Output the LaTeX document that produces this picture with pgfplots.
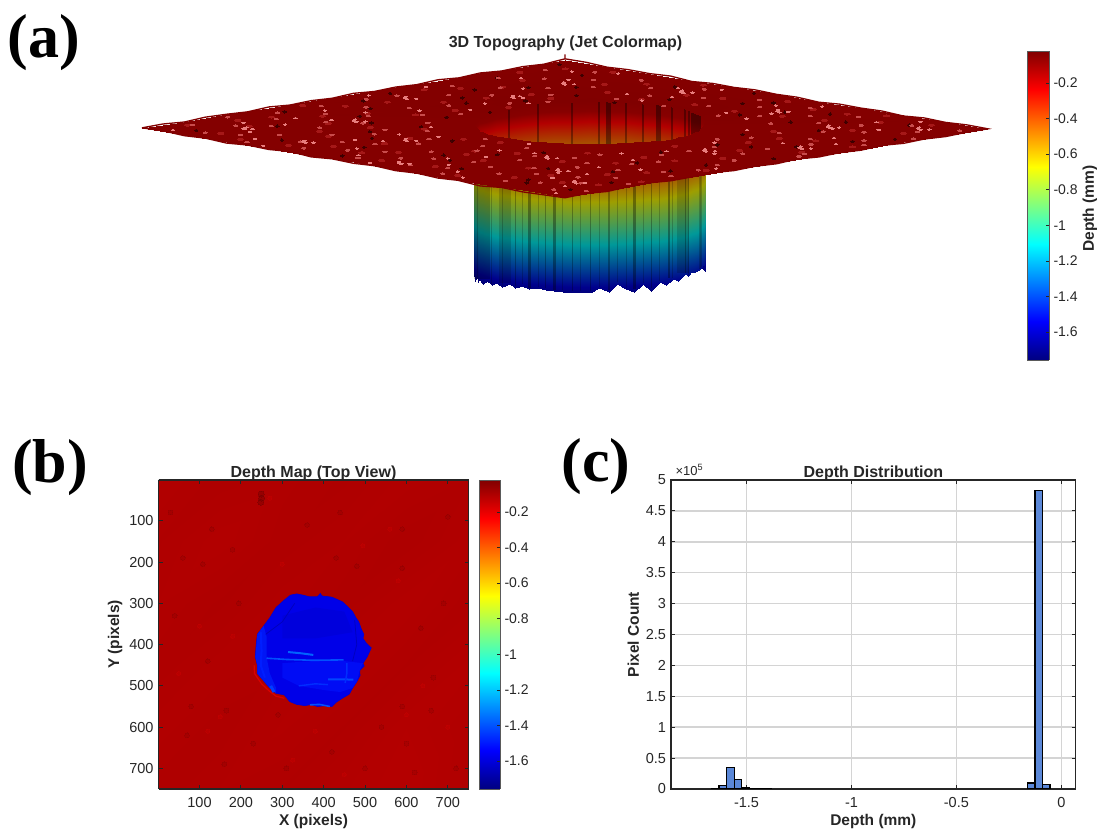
\documentclass[border=0pt]{standalone}
\usepackage{pgfplots}
\pgfplotsset{compat=1.18}
\usepackage{fontspec}
\setmainfont{Liberation Sans}
\newfontfamily\panelfont{Liberation Serif}
\definecolor{axc}{RGB}{38,38,38}
\definecolor{gridc}{RGB}{212,212,212}
\definecolor{barc}{RGB}{91,136,216}
\definecolor{cbedge}{RGB}{90,90,90}
\definecolor{hb}{RGB}{0,0,232}
\definecolor{hbe}{RGB}{0,0,215}
\definecolor{hbd}{RGB}{0,0,220}
\definecolor{hbdd}{RGB}{0,0,190}
\definecolor{hl}{RGB}{0,22,245}
\definecolor{hm}{RGB}{0,12,245}
\definecolor{sa}{RGB}{0,30,255}
\definecolor{sb}{RGB}{0,100,255}
\definecolor{sc}{RGB}{0,80,255}
\definecolor{sd}{RGB}{0,70,255}
\definecolor{se}{RGB}{0,45,255}
\definecolor{sf}{RGB}{0,80,255}
\definecolor{sg}{RGB}{0,60,255}
\definecolor{pitc}{RGB}{62,0,0}
\definecolor{midc}{RGB}{165,24,24}
\definecolor{hic}{RGB}{232,125,125}
\definecolor{hid}{RGB}{200,75,75}
\definecolor{rimc}{RGB}{128,0,0}
\definecolor{spotd}{RGB}{120,0,0}
\definecolor{spotl}{RGB}{205,0,0}
\newcommand\tl{\fontsize{14.5}{16}\selectfont}
\newcommand\bl{\fontsize{15.5}{17}\selectfont\bfseries}
\newcommand\ttl{\fontsize{16}{18}\selectfont\bfseries}
\pgfplotsset{
  mat/.style={scale only axis, clip=true,
    axis line style={draw=axc,line width=1.3pt},
    tick style={draw=axc,line width=1pt},
    tick align=inside, major tick length=4pt,
    tick label style={font=\tl,text=axc},
    xticklabel style={yshift=-5pt}, yticklabel style={xshift=-1.5pt},
    /pgf/number format/assume math mode=true,
    label style={font=\bl,text=axc},
    title style={font=\ttl,text=axc,yshift=-10pt}},
  cbar/.style={scale only axis, view={0}{90}, xmin=0,xmax=1,ymin=-1.757,ymax=-0.02,
    xtick=\empty, ytick={-1.6,-1.4,-1.2,-1,-0.8,-0.6,-0.4,-0.2},
    ytick pos=right, yticklabel pos=right, tick align=inside, major tick length=3pt,
    axis line style={draw=cbedge,line width=0.8pt}, tick style={draw=axc,line width=0.8pt},
    tick label style={font=\fontsize{14}{16}\selectfont,text=axc}, yticklabel style={xshift=1pt},
    /pgf/number format/assume math mode=true,
    point meta min=-1.757, point meta max=-0.02, colormap/jet},
  colormap={dimjet}{rgb(0cm)=(0,0,.3); rgb(1cm)=(0,0,.55); rgb(3cm)=(0,.6,.6); rgb(5cm)=(.62,.62,0); rgb(7cm)=(.7,0,0); rgb(7.5cm)=(.53,0,0); rgb(8cm)=(.5,0,0)},
}
\begin{document}
\begin{tikzpicture}[x=1pt,y=1pt]
\path[use as bounding box] (0,0) rectangle (1100,835);

\node[font=\panelfont\fontsize{62}{62}\selectfont\bfseries] at (44,792) {(a)};
\node[font=\panelfont\fontsize{62}{62}\selectfont\bfseries] at (50,367) {(b)};
\node[font=\panelfont\fontsize{62}{62}\selectfont\bfseries] at (596,368) {(c)};
\node[font=\ttl,text=axc] at (565.5,792) {3D Topography (Jet Colormap)};

% ---------- (a) 3D surface
\begin{axis}[anchor=origin, at={(142pt,715pt)},
  x={(0.564pt,-0.092pt)}, y={(0.564pt,0.0907pt)}, z={(0pt,98pt)},
  xmin=0,xmax=750,ymin=0,ymax=750,zmin=-1.8,zmax=0,
  hide axis, clip=false, z buffer=none, colormap name=dimjet,
  point meta min=-1.757, point meta max=-0.02]
% back half of the wall
\addplot3[surf,shader=interp,mesh/rows=21] table {
482 515 -0.08
482 515 -1.5

466 533 -0.06
466 533 -1.6

447 546 -0.05
447 546 -1.6

425 553 -0.04
425 553 -1.6

403 559 -0.03
403 559 -1.6

380 559 -0.03
380 559 -1.6

357 559 -0.03
357 559 -1.6

335 553 -0.03
335 553 -1.6

313 546 -0.03
313 546 -1.6

295 532 -0.03
295 532 -1.6

277 518 -0.03
277 518 -1.6

263 500 -0.03
263 500 -1.6

249 482 -0.03
249 482 -1.6

242 460 -0.03
242 460 -1.6

236 438 -0.04
236 438 -1.6

236 415 -0.05
236 415 -1.6

236 392 -0.06
236 392 -1.6

242 370 -0.07
242 370 -1.6

249 348 -0.08
249 348 -1.6

263 330 -0.08
263 330 -1.6

277 312 -0.08
277 312 -1.59
};
% dark stripes on the back of the wall
\addplot3[black,opacity=.4,line width=5pt,unbounded coords=jump] coordinates {
(437,549,-.05)(437,549,-.9)(nan,nan,nan)(425,553,-.04)(425,553,-.9)(nan,nan,nan)(295,532,-.03)(295,532,-.9)(nan,nan,nan)(357,559,-.03)(357,559,-.9)};
\addplot3[black,opacity=.35,line width=2pt,unbounded coords=jump] coordinates {
(403,559,-.03)(403,559,-.9)(nan,nan,nan)(380,559,-.03)(380,559,-.9)(nan,nan,nan)(335,553,-.03)(335,553,-.9)(nan,nan,nan)(313,546,-.03)(313,546,-.9)(nan,nan,nan)(263,500,-.03)(263,500,-.9)(nan,nan,nan)(242,460,-.03)(242,460,-.9)(nan,nan,nan)(236,415,-.05)(236,415,-.9)(nan,nan,nan)(414,556,-.03)(414,556,-.9)(nan,nan,nan)(285,525,-.03)(285,525,-.9)};
% front half of the wall
\addplot3[surf,shader=interp,mesh/rows=41] table {
277 312 -0.08
277 312 -1.59

286 305 -0.08
286 305 -1.657

295 299 -0.08
295 299 -1.59

304 291 -0.08
304 291 -1.637

313 284 -0.08
313 284 -1.59

324 280 -0.08
324 280 -1.63

335 277 -0.08
335 277 -1.585

346 274 -0.08
346 274 -1.613

357 271 -0.08
357 271 -1.58

368 271 -0.08
368 271 -1.61

380 272 -0.08
380 272 -1.57

391 271 -0.08
391 271 -1.6

403 271 -0.08
403 271 -1.566

413 274 -0.08
413 274 -1.59

424 278 -0.08
424 278 -1.574

435 281 -0.08
435 281 -1.587

447 284 -0.08
447 284 -1.589

456 290 -0.08
456 290 -1.595

466 297 -0.08
466 297 -1.6

474 304 -0.08
474 304 -1.59

483 312 -0.08
483 312 -1.6

491 320 -0.08
491 320 -1.55

499 329 -0.08
499 329 -1.59

503 340 -0.08
503 340 -1.515

508 350 -0.08
508 350 -1.57

513 360 -0.08
513 360 -1.607

519 370 -0.08
519 370 -1.53

522 381 -0.08
522 381 -1.61

526 392 -0.08
526 392 -1.52

526 403 -0.08
526 403 -1.56

526 415 -0.08
526 415 -1.51

525 426 -0.08
525 426 -1.54

525 438 -0.08
525 438 -1.48

520 448 -0.08
520 448 -1.52

516 458 -0.08
516 458 -1.49

512 469 -0.08
512 469 -1.5

508 480 -0.08
508 480 -1.5

501 489 -0.08
501 489 -1.5

494 498 -0.08
494 498 -1.51

488 507 -0.08
488 507 -1.48

482 515 -0.08
482 515 -1.5
};
% darker stripes on the front of the wall
\addplot3[black,opacity=.22,line width=16pt,unbounded coords=jump,line cap=butt] coordinates {
(322,281,-.5)(322,281,-1.58)(nan,nan,nan)};
\addplot3[black,opacity=.16,line width=12pt,unbounded coords=jump,line cap=butt] coordinates {
(372,271,-.5)(372,271,-1.56)(nan,nan,nan)(524,435,-.5)(524,435,-1.47)};
\addplot3[black,opacity=.33,line width=2.5pt,unbounded coords=jump] coordinates {
(413,274,-.5)(413,274,-1.58)(nan,nan,nan)(447,284,-.5)(447,284,-1.58)(nan,nan,nan)(513,360,-.5)(513,360,-1.58)(nan,nan,nan)(526,408,-.5)(526,408,-1.5)};
\addplot3[black,opacity=.28,line width=1.1pt,unbounded coords=jump] coordinates {
(391,271,-.5)(391,271,-1.58)(nan,nan,nan)(435,281,-.5)(435,281,-1.57)(nan,nan,nan)(466,297,-.5)(466,297,-1.58)(nan,nan,nan)(483,312,-.5)(483,312,-1.58)(nan,nan,nan)(499,329,-.5)(499,329,-1.57)(nan,nan,nan)(522,381,-.5)(522,381,-1.58)(nan,nan,nan)(525,438,-.5)(525,438,-1.47)(nan,nan,nan)(501,489,-.5)(501,489,-1.49)};
\addplot3[black,opacity=.2,line width=.8pt,unbounded coords=jump] coordinates {
(304,291,-.5)(304,291,-1.6)(nan,nan,nan)(346,274,-.5)(346,274,-1.6)(nan,nan,nan)(368,271,-.5)(368,271,-1.6)(nan,nan,nan)(403,271,-.5)(403,271,-1.55)(nan,nan,nan)(424,278,-.5)(424,278,-1.56)(nan,nan,nan)(456,290,-.5)(456,290,-1.58)(nan,nan,nan)(474,304,-.5)(474,304,-1.58)(nan,nan,nan)(491,320,-.5)(491,320,-1.54)(nan,nan,nan)(503,340,-.5)(503,340,-1.5)(nan,nan,nan)(508,350,-.5)(508,350,-1.56)(nan,nan,nan)(519,370,-.5)(519,370,-1.52)(nan,nan,nan)(526,392,-.5)(526,392,-1.51)(nan,nan,nan)(526,415,-.5)(526,415,-1.5)(nan,nan,nan)(520,448,-.5)(520,448,-1.51)(nan,nan,nan)(508,480,-.5)(508,480,-1.49)(nan,nan,nan)(494,498,-.5)(494,498,-1.5)};
% plate with the hole
\addplot3[surf,shader=interp,mesh/rows=41] table {
0 0 -0.08
277 312 -0.08

75 0 -0.08
295 299 -0.08

150 0 -0.085
313 284 -0.08

225 0 -0.08
335 277 -0.08

300 0 -0.085
357 271 -0.08

375 0 -0.08
380 272 -0.08

450 0 -0.085
403 271 -0.08

525 0 -0.085
424 278 -0.08

600 0 -0.085
447 284 -0.08

675 0 -0.085
466 297 -0.08

750 0 -0.085
483 312 -0.08

750 75 -0.085
499 329 -0.08

750 150 -0.08
508 350 -0.08

750 225 -0.085
519 370 -0.08

750 300 -0.08
526 392 -0.08

750 375 -0.085
526 415 -0.08

750 450 -0.08
525 438 -0.08

750 525 -0.085
516 458 -0.08

750 600 -0.08
508 480 -0.08

750 675 -0.085
494 498 -0.08

750 750 -0.08
482 515 -0.08

675 750 -0.08
466 533 -0.06

600 750 -0.085
447 546 -0.05

525 750 -0.08
425 553 -0.04

450 750 -0.085
403 559 -0.03

375 750 -0.08
380 559 -0.03

300 750 -0.08
357 559 -0.03

225 750 -0.085
335 553 -0.03

150 750 -0.08
313 546 -0.03

75 750 -0.085
295 532 -0.03

0 750 -0.08
277 518 -0.03

0 675 -0.085
263 500 -0.03

0 600 -0.08
249 482 -0.03

0 525 -0.085
242 460 -0.03

0 450 -0.08
236 438 -0.04

0 375 -0.085
236 415 -0.05

0 300 -0.08
236 392 -0.06

0 225 -0.085
242 370 -0.07

0 150 -0.08
249 348 -0.08

0 75 -0.085
263 330 -0.08

0 0 -0.08
277 312 -0.08
};
% rough rim of the plate
\addplot3[color=rimc,line width=1.3pt] coordinates {
(0,0,-.08)(37,0,-.075)(75,0,-.09)(112,0,-.08)(150,0,-.095)(187,0,-.08)(225,0,-.09)(262,0,-.075)(300,0,-.095)(337,0,-.08)(375,0,-.09)(412,0,-.08)(450,0,-.095)(487,0,-.085)(525,0,-.1)(560,0,-.09)(600,0,-.11)(637,0,-.09)(675,0,-.1)(712,0,-.095)(750,0,-.09)
(750,37,-.08)(750,75,-.095)(750,112,-.08)(750,150,-.075)(750,187,-.09)(750,225,-.085)(750,262,-.075)(750,300,-.09)(750,337,-.08)(750,375,-.09)(750,412,-.075)(750,450,-.09)(750,487,-.08)(750,525,-.09)(750,562,-.075)(750,600,-.09)(750,637,-.08)(750,675,-.09)(750,712,-.08)(750,750,-.08)
(712,750,-.075)(675,750,-.085)(637,750,-.075)(600,750,-.09)(562,750,-.075)(525,750,-.08)(487,750,-.075)(450,750,-.09)(412,750,-.075)(375,750,-.08)(337,750,-.07)(300,750,-.08)(262,750,-.075)(225,750,-.09)(187,750,-.07)(150,750,-.08)(112,750,-.075)(75,750,-.085)(37,750,-.07)(0,750,-.07)(0,750,-.025)(0,750,-.07)
(0,712,-.09)(0,675,-.08)(0,637,-.09)(0,600,-.075)(0,562,-.09)(0,525,-.075)(0,487,-.09)(0,450,-.08)(0,412,-.09)(0,375,-.075)(0,337,-.09)(0,300,-.08)(0,262,-.09)(0,225,-.075)(0,187,-.09)(0,150,-.08)(0,112,-.075)(0,75,-.09)(0,37,-.075)(0,0,-.08)};
% surface texture: mid-tone ripples
\addplot3[only marks,mark=*,mark size=1pt,mark options={fill=midc,draw=midc,line width=0pt,xscale=3}] coordinates {
(25,55,-.08)(150,25,-.08)(270,70,-.08)(390,35,-.08)(540,20,-.08)(670,75,-.08)(85,105,-.08)(210,120,-.08)(360,95,-.08)(480,125,-.08)(620,105,-.08)(735,150,-.08)(55,175,-.08)(140,190,-.08)(295,180,-.08)(420,170,-.08)(555,190,-.08)(690,205,-.08)(20,265,-.08)(120,280,-.08)(255,245,-.08)(395,240,-.08)(530,260,-.08)(650,295,-.08)(730,270,-.08)(75,360,-.08)(180,375,-.08)(570,375,-.08)(680,350,-.08)(40,460,-.08)(140,470,-.08)(615,460,-.08)(715,455,-.08)(95,545,-.08)(200,525,-.08)(575,545,-.08)(665,530,-.08)(30,640,-.08)(170,650,-.08)(285,600,-.08)(430,620,-.08)(560,650,-.08)(700,650,-.08)(110,725,-.08)(260,735,-.08)(425,720,-.08)(590,730,-.08)(50,700,-.08)(350,680,-.08)(490,700,-.08)(620,690,-.08)
(100,40,-.08)(225,35,-.08)(330,60,-.08)(470,50,-.08)(600,60,-.08)(715,95,-.08)(45,125,-.08)(175,140,-.08)(300,130,-.08)(430,145,-.08)(560,125,-.08)(665,160,-.08)(95,225,-.08)(200,205,-.08)(345,225,-.08)(470,195,-.08)(610,230,-.08)(60,300,-.08)(170,315,-.08)(605,285,-.08)(125,410,-.08)(210,440,-.08)(650,410,-.08)(65,500,-.08)(160,530,-.08)(620,510,-.08)(730,530,-.08)(75,600,-.08)(215,610,-.08)(360,620,-.08)(500,635,-.08)(640,620,-.08)(205,690,-.08)(300,665,-.08)(545,705,-.08)(680,720,-.08)};
% surface texture: dark pits
\addplot3[only marks,mark=*,mark size=1.2pt,mark options={fill=pitc,draw=pitc,line width=0pt,xscale=1.5}] coordinates {
(62,34,-.08)(190,58,-.08)(330,25,-.08)(505,62,-.08)(640,42,-.08)(110,130,-.08)(260,148,-.08)(415,120,-.08)(580,140,-.08)(712,120,-.08)(38,215,-.08)(175,232,-.08)(345,205,-.08)(490,222,-.08)(628,250,-.08)(95,310,-.08)(210,330,-.08)(590,330,-.08)(700,300,-.08)(30,410,-.08)(150,425,-.08)(600,420,-.08)(725,395,-.08)(85,505,-.08)(190,490,-.08)(565,500,-.08)(680,480,-.08)(40,590,-.08)(160,610,-.08)(310,625,-.08)(455,605,-.08)(610,590,-.08)(725,610,-.08)(100,680,-.08)(245,700,-.08)(395,670,-.08)(530,690,-.08)(660,700,-.08)(20,720,-.08)(350,735,-.08)(715,45,-.08)(460,170,-.08)(240,255,-.08)(655,180,-.08)(120,565,-.08)(205,565,-.08)(540,610,-.08)(480,660,-.08)(625,60,-.08)(702,235,-.08)(448,98,-.08)(302,92,-.08)(222,182,-.08)(128,258,-.08)(48,345,-.08)(222,395,-.08)(118,450,-.08)(640,440,-.08)(700,560,-.08)(588,660,-.08)(278,560,-.08)(420,700,-.08)};
% surface texture: softer highlights
\addplot3[only marks,mark=*,mark size=.7pt,mark options={fill=hid,draw=hid,line width=0pt,xscale=3}] coordinates {
(82,30,-.08)(170,16,-.08)(255,32,-.08)(355,28,-.08)(440,36,-.08)(515,18,-.08)(610,34,-.08)(700,30,-.08)
(28,62,-.08)(125,50,-.08)(215,66,-.08)(305,60,-.08)(395,64,-.08)(490,52,-.08)(565,68,-.08)(650,56,-.08)(738,50,-.08)
(70,96,-.08)(160,84,-.08)(255,100,-.08)(345,86,-.08)(425,92,-.08)(520,98,-.08)(600,100,-.08)(690,88,-.08)
(18,134,-.08)(105,124,-.08)(205,132,-.08)(295,118,-.08)(385,128,-.08)(480,108,-.08)(565,130,-.08)(655,118,-.08)(735,128,-.08)
(70,168,-.08)(155,160,-.08)(240,172,-.08)(330,160,-.08)(420,174,-.08)(510,160,-.08)(600,172,-.08)(690,150,-.08)
(36,204,-.08)(130,196,-.08)(225,206,-.08)(315,194,-.08)(400,204,-.08)(500,196,-.08)(585,204,-.08)(650,194,-.08)(730,208,-.08)
(85,240,-.08)(170,222,-.08)(270,236,-.08)(365,244,-.08)(450,232,-.08)(545,222,-.08)(630,238,-.08)(700,224,-.08)
(40,278,-.08)(135,266,-.08)(225,282,-.08)(550,262,-.08)(640,276,-.08)(722,264,-.08)
(85,312,-.08)(175,322,-.08)(605,316,-.08)(710,310,-.08)
(42,356,-.08)(128,346,-.08)(205,360,-.08)(610,360,-.08)(700,350,-.08)
(48,404,-.08)(148,396,-.08)(610,405,-.08)(670,395,-.08)(735,430,-.08)
(92,452,-.08)(190,462,-.08)(570,450,-.08)(665,444,-.08)(725,450,-.08)
(45,505,-.08)(130,490,-.08)(215,505,-.08)(590,490,-.08)(680,506,-.08)
(95,540,-.08)(180,545,-.08)(590,540,-.08)(650,535,-.08)(730,550,-.08)
(42,590,-.08)(140,580,-.08)(260,582,-.08)(340,585,-.08)(440,582,-.08)(530,585,-.08)(620,588,-.08)(705,575,-.08)
(85,628,-.08)(175,625,-.08)(270,630,-.08)(380,625,-.08)(480,615,-.08)(570,630,-.08)(660,620,-.08)(738,630,-.08)
(40,675,-.08)(135,665,-.08)(230,672,-.08)(330,665,-.08)(430,665,-.08)(525,660,-.08)(620,655,-.08)(705,670,-.08)
(95,708,-.08)(180,705,-.08)(285,712,-.08)(390,705,-.08)(480,705,-.08)(570,700,-.08)(665,700,-.08)(735,715,-.08)};
% surface texture: bright highlights
\addplot3[only marks,mark=*,mark size=.7pt,mark options={fill=hic,draw=hic,line width=0pt,xscale=2.4}] coordinates {
(40,15,-.08)(205,10,-.08)(392,12,-.08)(555,14,-.08)(722,12,-.08)
(160,40,-.08)(340,44,-.08)(518,42,-.08)(692,58,-.08)
(118,74,-.08)(303,78,-.08)(472,72,-.08)(636,92,-.08)
(62,118,-.08)(254,124,-.08)(436,106,-.08)(612,126,-.08)
(108,146,-.08)(285,142,-.08)(462,148,-.08)(645,144,-.08)
(82,190,-.08)(262,194,-.08)(438,196,-.08)(618,192,-.08)
(124,212,-.08)(310,216,-.08)(484,212,-.08)(668,216,-.08)
(66,258,-.08)(250,262,-.08)(428,258,-.08)(608,262,-.08)
(112,284,-.08)(562,288,-.08)(728,290,-.08)
(150,342,-.08)(590,340,-.08)
(22,380,-.08)(190,392,-.08)(645,370,-.08)
(168,440,-.08)(585,430,-.08)
(26,478,-.08)(205,480,-.08)(648,488,-.08)
(160,510,-.08)(545,528,-.08)(700,530,-.08)
(120,556,-.08)(290,596,-.08)(482,590,-.08)(665,562,-.08)
(62,610,-.08)(242,618,-.08)(432,604,-.08)(612,612,-.08)
(112,644,-.08)(298,642,-.08)(476,640,-.08)(660,646,-.08)
(70,692,-.08)(254,696,-.08)(436,688,-.08)(616,686,-.08)
(122,722,-.08)(302,726,-.08)(482,724,-.08)(652,728,-.08)
(92,88,-.08)(98,84,-.08)(104,92,-.08)(90,95,-.08)(218,68,-.08)(226,64,-.08)(232,72,-.08)(214,74,-.08)(418,38,-.08)(426,34,-.08)(432,42,-.08)(412,44,-.08)
(598,138,-.08)(606,134,-.08)(612,144,-.08)(592,146,-.08)(678,88,-.08)(686,84,-.08)(692,94,-.08)(672,95,-.08)(148,228,-.08)(156,224,-.08)(162,234,-.08)(142,236,-.08)
(298,168,-.08)(306,164,-.08)(312,174,-.08)(292,176,-.08)(518,198,-.08)(526,194,-.08)(532,204,-.08)(512,206,-.08)(68,398,-.08)(76,394,-.08)(82,404,-.08)(62,406,-.08)
(158,498,-.08)(166,494,-.08)(172,504,-.08)(152,506,-.08)(618,378,-.08)(626,374,-.08)(632,384,-.08)(612,386,-.08)(688,478,-.08)(696,474,-.08)(702,484,-.08)(682,486,-.08)
(128,618,-.08)(136,614,-.08)(142,624,-.08)(122,626,-.08)(278,678,-.08)(286,674,-.08)(292,684,-.08)(272,686,-.08)(468,658,-.08)(476,654,-.08)(482,664,-.08)(462,666,-.08)
(598,618,-.08)(606,614,-.08)(612,624,-.08)(592,626,-.08)(688,688,-.08)(696,684,-.08)(702,694,-.08)(682,696,-.08)};
\end{axis}

% ---------- colourbar of (a)
\begin{axis}[cbar, at={(1027pt,475pt)}, anchor=south west, width=22pt, height=309pt,
  ylabel={Depth (mm)}, label style={font=\bl,text=axc},
  ylabel style={at={(rel axis cs:2.86,0.49)},anchor=center,rotate=0}]
\addplot3[surf,shader=interp,point meta=y] coordinates {
(0,-1.757,0)(1,-1.757,0)

(0,-0.02,0)(1,-0.02,0)};
\end{axis}

% ---------- (b) depth map
\begin{axis}[mat, at={(158.5pt,46pt)}, anchor=south west, width=310pt, height=309pt,
  view={0}{90}, xmin=1,xmax=750,ymin=1,ymax=750, y dir=reverse,
  xtick={100,200,...,700}, ytick={100,200,...,700},
  xlabel={X (pixels)}, ylabel={Y (pixels)}, title={Depth Map (Top View)},
  axis on top, colormap/jet, point meta min=-1.757, point meta max=-0.02]
\addplot3[surf,shader=interp] table {
1 1 -0.105
150 1 -0.100
300 1 -0.102
450 1 -0.099
600 1 -0.104
750 1 -0.101

1 150 -0.101
150 150 -0.106
300 150 -0.100
450 150 -0.103
600 150 -0.098
750 150 -0.104

1 300 -0.103
150 300 -0.099
300 300 -0.104
450 300 -0.100
600 300 -0.106
750 300 -0.100

1 450 -0.100
150 450 -0.104
300 450 -0.102
450 450 -0.106
600 450 -0.101
750 450 -0.107

1 600 -0.104
150 600 -0.100
300 600 -0.105
450 600 -0.101
600 600 -0.108
750 600 -0.103

1 750 -0.100
150 750 -0.103
300 750 -0.101
450 750 -0.106
600 750 -0.110
750 750 -0.102
};
% darker spots in the red field
\addplot[only marks,mark=*,mark size=2.4pt,mark options={fill=spotd,draw=spotd,line width=0pt,opacity=.18}] coordinates {
(108,205)(360,110)(440,80)(195,300)(480,210)(590,215)(40,330)(180,170)(80,550)(165,560)(290,570)(600,640)(660,560)(590,120)(700,90)(30,80)(430,190)(635,360)(665,480)(540,600)(420,660)(160,690)(70,620)(310,700)(720,700)(590,550)(620,710)(130,120)(230,640)(500,700)(690,300)(120,440)(60,190)};
\addplot[only marks,mark=*,mark size=3pt,mark options={fill=spotd,draw=spotd,line width=0pt,opacity=.45}] coordinates {
(250,45)(248,55)(249,35)};
\addplot[only marks,mark=*,mark size=2pt,mark options={fill=spotl,draw=spotl,line width=0pt,opacity=.25}] coordinates {
(270,45)(300,205)(580,245)(100,355)(150,575)(120,610)(450,715)(325,680)(495,160)(640,500)(700,600)(50,470)(600,570)(180,380)(560,120)(380,610)};
% bright rim of the hole
\addplot[red!85!black,line width=1.2pt] coordinates {(232,450)(233,470)(250,495)(268,512)(285,525)(305,530)};
% the hole
\addplot[fill=hb,draw=hbe,line width=.6pt] coordinates {
(335,277)(350,280)(365,284)(385,284)(392,276)(396,282)(420,285)(445,296)(462,312)(470,320)(478,335)(485,345)(490,360)(497,375)(495,385)(502,395)(515,408)(505,430)(495,445)(498,452)(487,463)(488,475)(480,490)(470,505)(462,520)(445,530)(430,540)(420,550)(405,548)(385,550)(370,545)(355,548)(335,545)(318,538)(305,522)(285,518)(270,505)(257,490)(240,470)(240,450)(235,430)(237,400)(240,375)(255,355)(270,335)(285,310)(305,292)(320,280)(335,277)};
% lighter facets in the hole floor
\addplot[fill=hl,draw=none] coordinates {
(240,375)(255,355)(262,380)(262,430)(270,470)(285,505)(285,518)(270,505)(257,490)(240,470)(240,450)(235,430)(240,375)};
\addplot[fill=hm,draw=none] coordinates {
(300,445)(370,440)(450,440)(495,445)(487,463)(480,490)(470,505)(440,515)(400,510)(340,500)(300,480)(300,445)};
\addplot[fill=hbd,draw=none] coordinates {
(300,330)(380,310)(450,320)(470,370)(380,385)(300,385)(300,330)};
\addplot[sa,line width=2pt] coordinates {(248,370)(250,415)(248,450)(258,480)};
\addplot[sb,line width=2pt] coordinates {(314,418)(345,421)(375,425)};
\addplot[sc,line width=1.6pt] coordinates {(262,433)(310,436)(375,438)(448,437)};
\addplot[sd,line width=2pt] coordinates {(411,484)(440,484)(472,485)};
\addplot[se,line width=1.5pt] coordinates {(456,445)(456,470)(452,493)};
\addplot[sf,line width=1.6pt] coordinates {(367,546)(390,545)(415,550)};
\addplot[sg,line width=3pt] coordinates {(272,500)(280,515)};
\addplot[se,line width=1.4pt] coordinates {(340,500)(380,495)(410,497)};
\addplot[hbdd,line width=.8pt] coordinates {(260,375)(300,345)(330,300)};
\addplot[hbdd,line width=.8pt] coordinates {(475,340)(480,400)(470,440)};
\end{axis}

% ---------- colourbar of (b)
\begin{axis}[cbar, at={(479pt,46pt)}, anchor=south west, width=21pt, height=309pt]
\addplot3[surf,shader=interp,point meta=y] coordinates {
(0,-1.757,0)(1,-1.757,0)

(0,-0.02,0)(1,-0.02,0)};
\end{axis}

% ---------- (c) histogram
\begin{axis}[mat, at={(671pt,46pt)}, anchor=south west, width=404.7pt, height=309pt,
  xmin=-1.86,xmax=0.0686,ymin=0,ymax=500000,
  xtick={-1.5,-1,-0.5,0}, ytick={0,50000,100000,150000,200000,250000,300000,350000,400000,450000,500000},
  yticklabels={0,0.5,1,1.5,2,2.5,3,3.5,4,4.5,5}, scaled y ticks=false,
  grid=major, grid style={draw=gridc,line width=1.5pt},
  xlabel={Depth (mm)}, ylabel={Pixel Count}, title={Depth Distribution}]
\addplot[ybar interval,fill=barc,draw=black,line width=1.2pt] coordinates {
(-1.667,400)(-1.631,5400)(-1.595,34500)(-1.559,15000)(-1.523,3000)(-1.488,1000)(-1.452,600)(-1.416,300)(-1.380,300)};
\addplot[ybar interval,fill=barc,draw=black,line width=1.2pt] coordinates {
(-0.1616,9700)(-0.1257,483000)(-0.0898,7500)(-0.054,7500)};
\end{axis}
\node[font=\fontsize{13}{14}\selectfont,text=axc,anchor=west] at (672,365) {×10\textsuperscript{5}};
\end{tikzpicture}
\end{document}
